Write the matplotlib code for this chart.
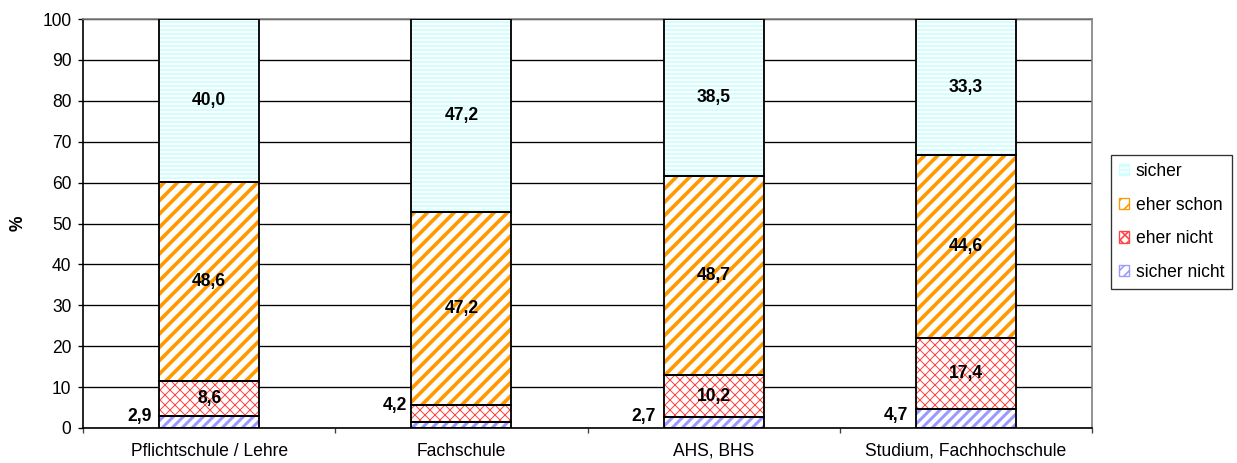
import numpy as np
import matplotlib
matplotlib.use('Agg')
import matplotlib.pyplot as plt
from matplotlib.patches import Patch
import matplotlib as mpl

plt.rcParams['font.family'] = ['Liberation Sans', 'DejaVu Sans']

categories = ['Pflichtschule / Lehre', 'Fachschule', 'AHS, BHS', 'Studium, Fachhochschule']
series = ['sicher nicht', 'eher nicht', 'eher schon', 'sicher']
sicher_nicht = [2.9, 1.4, 2.7, 4.7]
eher_nicht = [8.6, 4.2, 10.2, 17.4]
eher_schon = [48.6, 47.2, 48.7, 44.6]
sicher = [40.0, 47.2, 38.5, 33.3]
yticks = list(range(0, 101, 10))

values = [sicher_nicht, eher_nicht, eher_schon, sicher]
# hatch colour, hatch pattern, hatch line width (pt)
styles = [('#9999ff', '////', 1.8),
          ('#ff4444', 'xxxx', 0.6),
          ('#ff9900', '///', 2.2),
          ('#ccffff', '-----', 1.1)]

DPI = 120
W, H = 1237, 463
FS = 10.5

fig = plt.figure(figsize=(W / DPI, H / DPI), dpi=DPI)
ax = fig.add_axes([83 / W, (H - 428) / H, 1009 / W, 409 / H])

x = np.arange(len(categories))
width = 0.397
bottom = np.zeros(len(categories))
for vals, (col, hatch, hlw) in zip(values, styles):
    with mpl.rc_context({'hatch.linewidth': hlw}):
        bars = ax.bar(x, vals, width, bottom=bottom, color='white', edgecolor=col,
                      hatch=hatch, linewidth=0, zorder=2)
        for b in bars:
            if hasattr(b, 'set_hatch_linewidth'):
                b.set_hatch_linewidth(hlw)
    ax.bar(x, vals, width, bottom=bottom, fill=False, edgecolor='black',
           linewidth=1.1, zorder=3)
    bottom += np.array(vals)

# value labels: small bottom segments are labelled left of the bar
bottom = np.zeros(len(categories))
for i, vals in enumerate(values):
    for j, v in enumerate(vals):
        txt = f'{v:.1f}'.replace('.', ',')
        if i == 0:
            if v >= 2:
                ax.text(j - width / 2 - 0.03, min(v, 3.0), txt, ha='right', va='center',
                        fontsize=FS, fontweight='bold', zorder=4)
        elif i == 1 and v < 5:
            ax.text(j - width / 2 - 0.015, bottom[j] + v, txt, ha='right', va='center',
                    fontsize=FS, fontweight='bold', zorder=4)
        else:
            ax.text(j, bottom[j] + v / 2, txt, ha='center', va='center',
                    fontsize=FS, fontweight='bold', zorder=4)
    bottom += np.array(vals)

ax.set_xlim(-0.5, len(categories) - 0.5)
ax.set_ylim(0, 100)
ax.set_yticks(yticks)
ax.tick_params(axis='y', labelsize=FS, length=3, width=0.8, direction='out', pad=4)
ax.set_xticks(x)
ax.set_xticklabels(categories, fontsize=FS)
ax.set_xticks(np.arange(len(categories) + 1) - 0.5, minor=True)
ax.tick_params(axis='x', which='major', length=0, pad=9)
ax.tick_params(axis='x', which='minor', length=3, width=0.8, color='#404040')
ax.set_ylabel('%', fontsize=FS, fontweight='bold')
ax.yaxis.set_label_coords(-0.056, 0.5)
ax.yaxis.grid(True, color='black', linewidth=0.8, zorder=0)
ax.set_axisbelow(True)
for s in ['top', 'right']:
    ax.spines[s].set_color('#808080')
    ax.spines[s].set_linewidth(1.0)
for s in ['left', 'bottom']:
    ax.spines[s].set_linewidth(1.0)

handles = []
for name, (col, hatch, hlw) in list(zip(series, styles))[::-1]:
    try:
        p = Patch(facecolor='white', edgecolor='black', hatchcolor=col, hatch=hatch, linewidth=0.8)
    except Exception:
        p = Patch(facecolor='white', edgecolor=col, hatch=hatch, linewidth=0.8)
    handles.append(p)
leg = fig.legend(handles, series[::-1], loc='upper left',
                 bbox_to_anchor=(1111 / W, 1 - 155 / H), frameon=True, fancybox=False,
                 edgecolor='black', fontsize=FS, handlelength=0.6, handleheight=0.6,
                 handletextpad=0.35, labelspacing=0.95, borderpad=0.45, borderaxespad=0)
leg.get_frame().set_linewidth(0.8)

fig.savefig('out.png', dpi=DPI)
